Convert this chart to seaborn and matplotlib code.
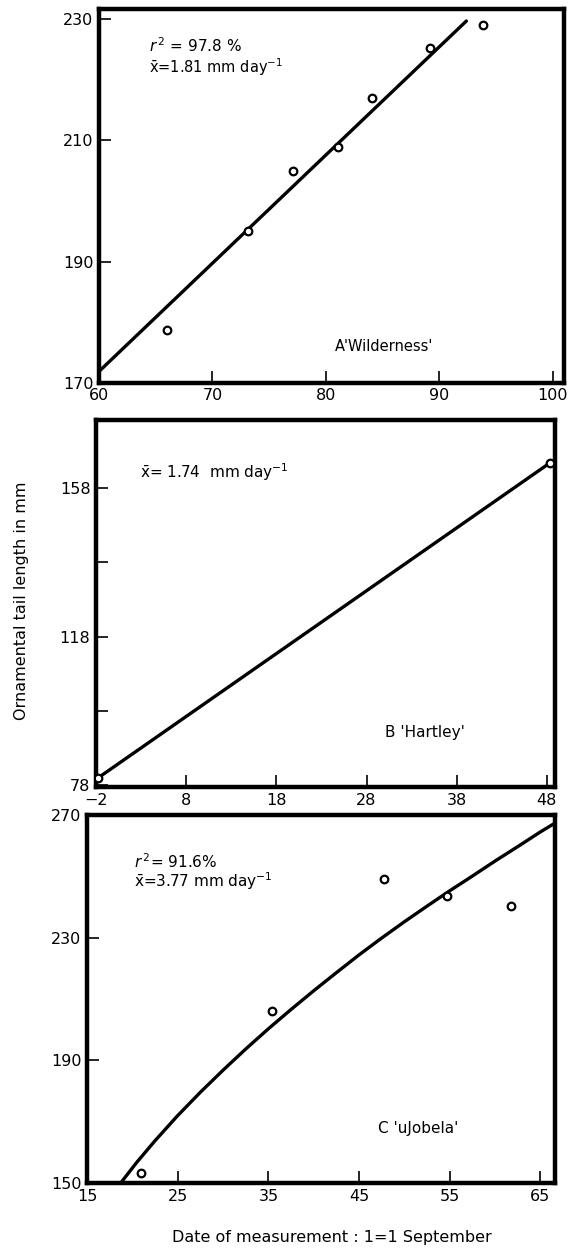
import numpy as np
import pandas as pd
import matplotlib
matplotlib.use("Agg")
import matplotlib.pyplot as plt
import seaborn as sns

# ===== data =====
# A 'Wilderness'
a_day = [66.0, 73.1, 77.1, 81.1, 84.1, 89.2, 93.9]
a_len = [178.7, 195.0, 204.9, 209.0, 217.0, 225.3, 229.0]
a_fit_day = [60.0, 92.4]
a_fit_len = [171.9, 229.7]

# B 'Hartley'
b_day = [-1.8, 48.3]
b_len = [79.9, 164.7]

# C 'uJobela'
c_day = [20.9, 35.4, 47.7, 54.7, 61.8]
c_len = [153.3, 206.1, 249.1, 243.7, 240.2]
c_fit_day = [18.76, 20.5, 22.5, 25.0, 27.5, 30.0, 32.5, 35.0, 37.5, 40.0,
             42.5, 45.0, 47.5, 50.0, 52.5, 55.0, 57.5, 60.0, 62.5, 65.0, 66.4]
c_fit_len = [150.2, 156.8, 163.8, 172.0, 179.6, 186.8, 193.7, 200.3, 206.6,
             212.7, 218.6, 224.4, 229.9, 235.2, 240.3, 245.3, 250.1, 255.0,
             259.7, 264.5, 267.0]

a_xticks = [60, 70, 80, 90, 100]
a_yticks = [170, 190, 210, 230]
b_xticks = [-2, 8, 18, 28, 38, 48]
b_yticks = [78, 98, 118, 138, 158]
b_ylabels = ["78", "", "118", "", "158"]
c_xticks = [15, 25, 35, 45, 55, 65]
c_yticks = [150, 190, 230, 270]

# ===== style =====
sns.set_style("ticks")
plt.rcParams["font.family"] = ["DejaVu Sans"]
plt.rcParams["mathtext.fontset"] = "dejavusans"
for key in ["text.color", "axes.labelcolor", "xtick.color", "ytick.color"]:
    plt.rcParams[key] = "black"

fig = plt.figure(figsize=(5.69, 12.49), dpi=100)

ax_a = fig.add_axes([0.174, 0.6934, 0.817, 0.299])
ax_b = fig.add_axes([0.1687, 0.3699, 0.8067, 0.2938])
ax_c = fig.add_axes([0.1529, 0.0528, 0.8225, 0.2947])


def draw_panel(ax, px, py, lx, ly):
    sns.lineplot(x=lx, y=ly, ax=ax, color="black", linewidth=2.4,
                 sort=False, estimator=None)
    sns.scatterplot(x=px, y=py, ax=ax, marker="o", s=30, facecolor="white",
                    edgecolor="black", linewidth=1.6, zorder=5)
    for sp in ax.spines.values():
        sp.set_visible(True)
        sp.set_linewidth(3.2)
        sp.set_color("black")
    ax.tick_params(direction="in", length=8.5, width=1.2, labelsize=11.5,
                   color="black", pad=4)


# ----- A -----
draw_panel(ax_a, a_day, a_len, a_fit_day, a_fit_len)
ax_a.set_xlim(60, 101)
ax_a.set_ylim(170, 231.6)
ax_a.set_xticks(a_xticks)
ax_a.set_yticks(a_yticks)
ax_a.text(64.4, 224.6, r"$r^{\,2}$ = 97.8 %", fontsize=11, va="baseline")
ax_a.text(64.4, 221.2, r"$\bar{\mathrm{x}}$=1.81 mm day$^{-1}$", fontsize=10.5,
          va="baseline")
ax_a.text(80.8, 176.0, "A'Wilderness'", fontsize=10.5, va="center")

# ----- B -----
draw_panel(ax_b, b_day, b_len, b_day, b_len)
ax_b.set_xlim(-1.9, 48.9)
ax_b.set_ylim(77.5, 176.3)
ax_b.set_xticks(b_xticks)
ax_b.set_yticks(b_yticks)
ax_b.set_yticklabels(b_ylabels)
ax_b.text(2.9, 162.4, r"$\bar{\mathrm{x}}$= 1.74  mm day$^{-1}$", fontsize=11,
          va="center")
ax_b.text(30.0, 92.3, "B 'Hartley'", fontsize=11, va="center")
ax_b.set_ylabel("Ornamental tail length in mm", fontsize=11.5)
ax_b.yaxis.set_label_coords(-0.146, 0.507)

# ----- C -----
draw_panel(ax_c, c_day, c_len, c_fit_day, c_fit_len)
ax_c.set_xlim(15, 66.6)
ax_c.set_ylim(150, 270)
ax_c.set_xticks(c_xticks)
ax_c.set_yticks(c_yticks)
ax_c.text(20.2, 254.9, r"$r^{\,2}$= 91.6%", fontsize=11, va="center")
ax_c.text(20.2, 248.3, r"$\bar{\mathrm{x}}$=3.77 mm day$^{-1}$", fontsize=11,
          va="center")
ax_c.text(47.1, 167.9, "C 'uJobela'", fontsize=11, va="center")
ax_c.set_xlabel("Date of measurement : 1=1 September", fontsize=11.5)
ax_c.xaxis.set_label_coords(0.5235, -0.128)

fig.savefig("out.png", dpi=100)
